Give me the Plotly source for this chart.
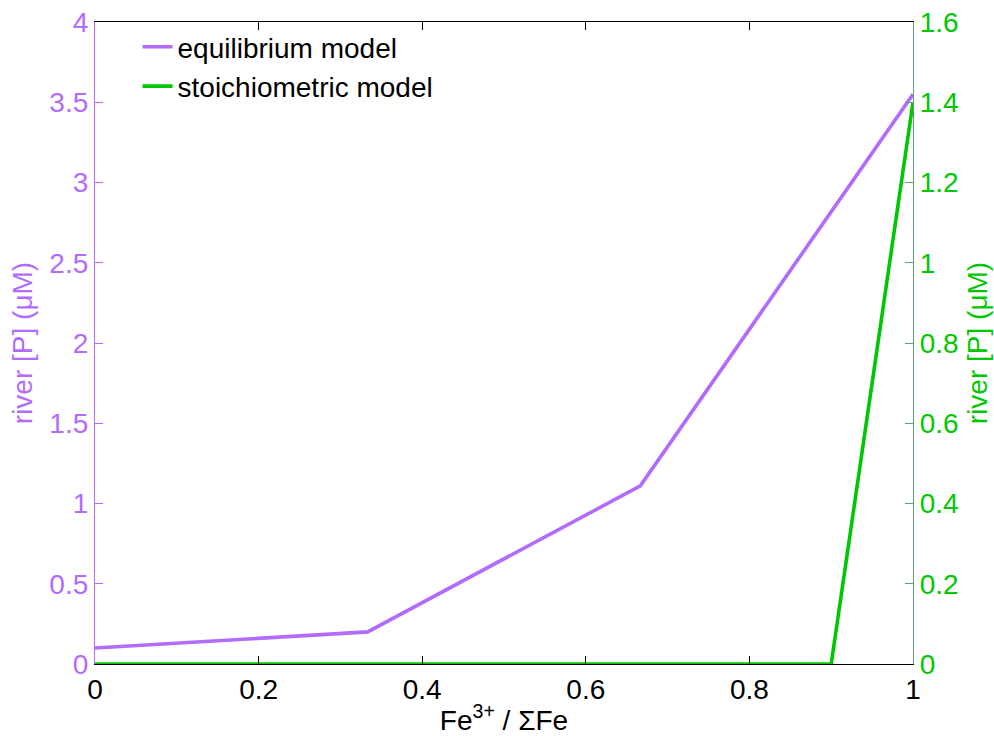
import plotly.graph_objects as go

# Fe3+ / total Fe ratio and modelled river phosphate
fe_ratio_eq = [0, 1/3, 2/3, 1]
p_equilibrium = [0.1, 0.2, 1.11, 3.55]

fe_ratio_st = [0, 1/3, 2/3, 0.9, 1]
p_stoichiometric = [0, 0, 0, 0, 1.4]

purple = "#b26bff"
green = "#00c800"
right_axis_col = "#5f9f80"
font_family = "Liberation Sans, Arial, Helvetica, sans-serif"
fs = 28

fig = go.Figure()
fig.add_trace(go.Scatter(
    x=fe_ratio_eq, y=p_equilibrium, mode="lines", name="equilibrium model",
    line=dict(color=purple, width=3.6), yaxis="y"))
fig.add_trace(go.Scatter(
    x=fe_ratio_st, y=p_stoichiometric, mode="lines", name="stoichiometric model",
    line=dict(color=green, width=3.6), yaxis="y2"))

fig.update_layout(
    width=994, height=736,
    margin=dict(l=95, r=81, t=22, b=72, autoexpand=False),
    paper_bgcolor="white", plot_bgcolor="white",
    font=dict(family=font_family, size=fs, color="black"),
    showlegend=True,
    legend=dict(x=0.052, y=1.0, xanchor="left", yanchor="top",
                bgcolor="rgba(0,0,0,0)", font=dict(size=fs),
                itemwidth=30, tracegroupgap=0),
    xaxis=dict(range=[0, 1], dtick=0.2, showline=True, linecolor="black",
               linewidth=1.2, mirror="ticks", ticks="inside", ticklen=8,
               tickcolor="black", showgrid=False, zeroline=False,
               automargin=False,
               tickfont=dict(size=fs, color="black"),
               title=dict(text="Fe<sup>3+</sup> / ΣFe", standoff=0,
                          font=dict(size=fs, color="black"))),
    yaxis=dict(range=[0, 4], dtick=0.5, showline=True, linecolor=purple,
               linewidth=1.2, ticks="inside", ticklen=8, tickcolor=purple,
               showgrid=False, zeroline=False, automargin=False,
               tickfont=dict(size=fs, color=purple),
               title=dict(text="river [P] (μM)", standoff=8,
                          font=dict(size=fs, color=purple))),
    yaxis2=dict(range=[0, 1.6], dtick=0.2, overlaying="y", side="right",
                showline=True, linecolor=right_axis_col, linewidth=1.2,
                ticks="inside", ticklen=8, tickcolor=right_axis_col,
                showgrid=False, zeroline=False, automargin=False,
                tickfont=dict(size=fs, color=green),
                title=dict(text="river [P] (μM)", standoff=9,
                           font=dict(size=fs, color=green))),
)

fig.write_html("out.html")
